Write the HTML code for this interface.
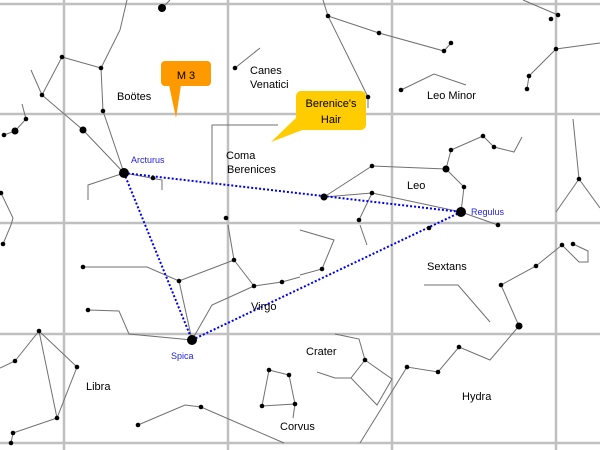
<!DOCTYPE html>
<html><head><meta charset="utf-8"><style>
html,body{margin:0;padding:0;background:#fff}
svg{display:block}
text{font-family:"Liberation Sans",sans-serif;font-size:11px;fill:#000}
.b{fill:#2222dd;font-size:9px}
</style></head><body>
<svg width="600" height="450" viewBox="0 0 600 450">
<g stroke="#c0c0c0" stroke-width="2.5">
<line x1="64" y1="0" x2="64" y2="450"/><line x1="228" y1="0" x2="228" y2="450"/>
<line x1="392" y1="0" x2="392" y2="450"/><line x1="556" y1="0" x2="556" y2="450"/>
<line x1="0" y1="4" x2="600" y2="4"/><line x1="0" y1="114" x2="600" y2="114"/>
<line x1="0" y1="223" x2="600" y2="223"/><line x1="0" y1="334" x2="600" y2="334"/>
<line x1="0" y1="443" x2="600" y2="443"/>
</g>
<g stroke="#707070" stroke-width="1" fill="none">
<polyline points="127,0 120,30 101,68"/>
<polyline points="162,8 170,0"/>
<polyline points="31,70 42,95 62,57 101,68 103,111 124,173"/>
<polyline points="42,95 83,130 124,173"/>
<polyline points="22,104 26,119 15,131 4,135"/>
<polyline points="162,190 162,180 124,173 88,185 88,200"/>
<polyline points="1,193 13,218 11,225 3,244"/>
<polyline points="235,68 260,48"/>
<polyline points="212,185 212,125 278,125"/>
<polyline points="323,0 328,16 368,97 368,108"/>
<polyline points="328,16 379,33 444,51 451,43"/>
<polyline points="523,0 558,15"/>
<polyline points="600,43 556,49 529,76 527,89"/>
<polyline points="401,90 434,74 466,85"/>
<polyline points="324,197 372,166 446,169 451,150 483,136 494,147 514,152 522,137"/>
<polyline points="446,169 464,187 461,212"/>
<polyline points="324,197 372,193 461,212 498,225"/>
<polyline points="372,193 359,220"/>
<polyline points="573,119 579,179 600,208"/><polyline points="579,179 556,212"/>
<polyline points="83,267 147,267 179,281 234,260 228,225"/>
<polyline points="234,260 254,286 282,282 300,277"/>
<polyline points="179,281 192,340"/>
<polyline points="88,310 119,311 129,334 192,340"/>
<polyline points="192,340 212,305 254,286"/>
<polyline points="0,368 15,361 39,331 77,367 57,418 39,331"/>
<polyline points="57,418 13,433 11,443"/>
<polyline points="138,425 185,405 201,407 284,443"/>
<polyline points="269,370 289,375 295,404 262,406 269,370"/>
<polyline points="295,404 293,418"/>
<polyline points="300,230 334,240 322,269 300,275"/>
<polyline points="360,225 367,245"/>
<polyline points="424,285 458,285 490,322"/>
<polyline points="573,244 588,251 588,262 579,262 562,245 536,266 501,285 519,326 490,360 459,347 438,372 407,367 360,443"/>
<polyline points="335,334 359,339 365,360 392,379 377,405 351,378 365,360"/>
<polyline points="351,378 335,378 317,372"/>
</g>
<g stroke="#0000ee" stroke-width="2" stroke-dasharray="2,2" fill="none">
<line x1="124" y1="173" x2="461" y2="212"/>
<line x1="124" y1="173" x2="192" y2="340"/>
<line x1="192" y1="340" x2="461" y2="212"/>
</g>
<g fill="#000">
<g id="s">
<circle cx="162" cy="8" r="4"/><circle cx="124" cy="173" r="5"/><circle cx="461" cy="212" r="5"/><circle cx="192" cy="340" r="5"/>
<circle cx="83" cy="130" r="3.5"/><circle cx="15" cy="131" r="3.5"/><circle cx="324" cy="197" r="3.5"/><circle cx="446" cy="169" r="3.5"/><circle cx="519" cy="326" r="3.5"/>
</g>
<g>
<circle cx="62" cy="57" r="2.3"/><circle cx="101" cy="68" r="2.3"/><circle cx="42" cy="95" r="2.3"/><circle cx="103" cy="111" r="2.3"/>
<circle cx="26" cy="119" r="2.3"/><circle cx="4" cy="135" r="2.3"/><circle cx="153" cy="178" r="2.3"/><circle cx="1" cy="193" r="2.3"/>
<circle cx="226" cy="218" r="2.3"/><circle cx="235" cy="68" r="2.3"/><circle cx="328" cy="16" r="2.3"/><circle cx="368" cy="97" r="2.3"/>
<circle cx="379" cy="33" r="2.3"/><circle cx="444" cy="51" r="2.3"/><circle cx="451" cy="43" r="2.3"/><circle cx="558" cy="15" r="2.3"/>
<circle cx="551" cy="19" r="2.3"/><circle cx="556" cy="49" r="2.3"/><circle cx="529" cy="76" r="2.3"/><circle cx="527" cy="89" r="2.3"/>
<circle cx="401" cy="90" r="2.3"/><circle cx="372" cy="166" r="2.3"/><circle cx="451" cy="150" r="2.3"/><circle cx="483" cy="136" r="2.3"/>
<circle cx="494" cy="147" r="2.3"/><circle cx="464" cy="187" r="2.3"/><circle cx="372" cy="193" r="2.3"/><circle cx="359" cy="220" r="2.3"/>
<circle cx="498" cy="225" r="2.3"/><circle cx="579" cy="179" r="2.3"/><circle cx="3" cy="244" r="2.3"/><circle cx="83" cy="267" r="2.3"/>
<circle cx="179" cy="281" r="2.3"/><circle cx="234" cy="260" r="2.3"/><circle cx="254" cy="286" r="2.3"/><circle cx="282" cy="282" r="2.3"/>
<circle cx="88" cy="310" r="2.3"/><circle cx="39" cy="331" r="2.3"/><circle cx="15" cy="361" r="2.3"/><circle cx="77" cy="367" r="2.3"/>
<circle cx="57" cy="418" r="2.3"/><circle cx="13" cy="433" r="2.3"/><circle cx="11" cy="443" r="2.3"/><circle cx="138" cy="425" r="2.3"/>
<circle cx="201" cy="407" r="2.3"/><circle cx="269" cy="370" r="2.3"/><circle cx="289" cy="375" r="2.3"/><circle cx="262" cy="406" r="2.3"/>
<circle cx="295" cy="404" r="2.3"/><circle cx="429" cy="228" r="2.3"/><circle cx="322" cy="269" r="2.3"/><circle cx="562" cy="245" r="2.3"/>
<circle cx="573" cy="244" r="2.3"/><circle cx="536" cy="266" r="2.3"/><circle cx="501" cy="285" r="2.3"/><circle cx="459" cy="347" r="2.3"/>
<circle cx="438" cy="372" r="2.3"/><circle cx="407" cy="367" r="2.3"/><circle cx="365" cy="360" r="2.3"/>
</g>
</g>
<rect x="161" y="61" width="50" height="25" rx="4" fill="#ff9900"/>
<polygon points="169,85 181,85 176,118" fill="#ff9900"/>
<rect x="296" y="91" width="70" height="39" rx="5" fill="#ffcc00"/>
<polygon points="298,116 305,129 271,142" fill="#ffcc00"/>
<text x="186" y="79" text-anchor="middle" font-size="12">M 3</text>
<text x="331" y="107" text-anchor="middle" font-size="12">Berenice's</text>
<text x="331" y="123" text-anchor="middle" font-size="12">Hair</text>
<text x="117" y="100">Boötes</text>
<text x="250" y="74">Canes</text><text x="250" y="88">Venatici</text>
<text x="226" y="159">Coma</text><text x="227" y="173">Berenices</text>
<text x="427" y="99">Leo Minor</text>
<text x="407" y="189">Leo</text>
<text x="427" y="270">Sextans</text>
<text x="251" y="310">Virgo</text>
<text x="306" y="355">Crater</text>
<text x="86" y="390">Libra</text>
<text x="462" y="400">Hydra</text>
<text x="280" y="430">Corvus</text>
<text class="b" x="131" y="163">Arcturus</text>
<text class="b" x="471" y="215">Regulus</text>
<text class="b" x="171" y="359">Spica</text>
</svg>
</body></html>
